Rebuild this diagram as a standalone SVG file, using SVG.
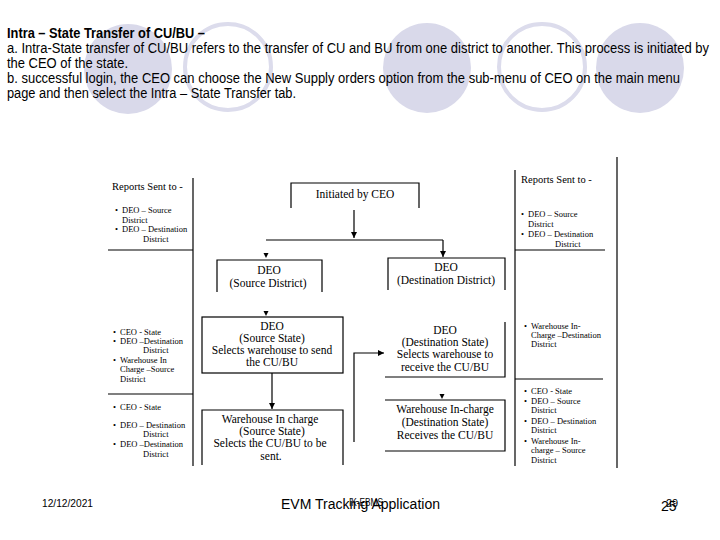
<svg xmlns="http://www.w3.org/2000/svg" width="720" height="540" viewBox="0 0 720 540">
<style>
.h{font-family:"Liberation Sans",Arial,sans-serif;font-size:14px;fill:#000}
.b{font-family:"Liberation Serif","Times New Roman",serif;font-size:11.5px;fill:#000;text-anchor:middle}
.p{font-family:"Liberation Serif","Times New Roman",serif;font-size:8.5px;fill:#000}
.pt{font-family:"Liberation Serif","Times New Roman",serif;font-size:10.5px;fill:#000}
.ln{stroke:#000;stroke-width:1.2;fill:none}
.f{font-family:"Liberation Sans",Arial,sans-serif;fill:#000}
</style>
<defs>
<marker id="arr" viewBox="0 0 6 6" refX="6" refY="3" markerWidth="6" markerHeight="6" markerUnits="userSpaceOnUse" orient="auto"><path d="M0,0 L6,3 L0,6 z" fill="#000"/></marker>
<path id="ahd" d="M-2.5,-5 L2.5,-5 L0,0 z" fill="#000"/>
</defs>
<rect width="720" height="540" fill="#fff"/>
<g id="background">
<ellipse cx="128" cy="69" rx="44" ry="45" fill="#d9d9ea"/>
<ellipse cx="228" cy="67" rx="43" ry="43" fill="none" stroke="#dcdcec" stroke-width="4"/>
<ellipse cx="427" cy="68" rx="44" ry="45" fill="#d9d9ea"/>
<ellipse cx="542" cy="67" rx="43" ry="43" fill="none" stroke="#dcdcec" stroke-width="4"/>
<ellipse cx="640" cy="68" rx="44" ry="45" fill="#d9d9ea"/>
</g>
<g id="header">
<text class="h" x="7" y="38" font-weight="bold" textLength="198" lengthAdjust="spacingAndGlyphs">Intra – State Transfer of CU/BU –</text>
<text class="h" x="7" y="53" textLength="702" lengthAdjust="spacingAndGlyphs">a. Intra-State transfer of CU/BU refers to the transfer of CU and BU from one district to another. This process is initiated by</text>
<text class="h" x="7" y="68" textLength="121" lengthAdjust="spacingAndGlyphs">the CEO of the state.</text>
<text class="h" x="7" y="83" textLength="673" lengthAdjust="spacingAndGlyphs">b. successful login, the CEO can choose the New Supply orders option from the sub-menu of CEO on the main menu</text>
<text class="h" x="7" y="98" textLength="289" lengthAdjust="spacingAndGlyphs">page and then select the Intra – State Transfer tab.</text>
</g>
<g id="frame" class="ln">
<path d="M193,178 V466"/>
<path d="M108,250 H193"/>
<path d="M108,394 H193"/>
<path d="M515,170 V466"/>
<path d="M617,157 V468"/>
<path d="M515,250 H605"/>
<path d="M515,379 H603"/>
</g>
<g id="reports-left">
<text class="pt" x="112" y="190">Reports Sent to -</text>
<text class="p" x="115" y="213">•</text><text class="p" x="122" y="213">DEO – Source</text>
<text class="p" x="122" y="223">District</text>
<text class="p" x="115" y="232">•</text><text class="p" x="122" y="232">DEO – Destination</text>
<text class="p" x="143" y="242">District</text>
</g>
<g id="reports-left-mid">
<text class="p" x="113" y="335">•</text><text class="p" x="120" y="335">CEO - State</text>
<text class="p" x="113" y="344">•</text><text class="p" x="120" y="344">DEO –Destination</text>
<text class="p" x="143" y="353">District</text>
<text class="p" x="113" y="363">•</text><text class="p" x="120" y="363">Warehouse In</text>
<text class="p" x="120" y="372">Charge –Source</text>
<text class="p" x="120" y="382">District</text>
</g>
<g id="reports-left-low">
<text class="p" x="113" y="410">•</text><text class="p" x="120" y="410">CEO - State</text>
<text class="p" x="113" y="428">•</text><text class="p" x="120" y="428">DEO – Destination</text>
<text class="p" x="143" y="437">District</text>
<text class="p" x="113" y="447">•</text><text class="p" x="120" y="447">DEO –Destination</text>
<text class="p" x="143" y="457">District</text>
</g>
<g id="reports-right">
<text class="pt" x="521" y="183">Reports Sent to -</text>
<text class="p" x="521" y="217">•</text><text class="p" x="528" y="217">DEO – Source</text>
<text class="p" x="528" y="227">District</text>
<text class="p" x="521" y="237">•</text><text class="p" x="528" y="237">DEO – Destination</text>
<text class="p" x="555" y="247">District</text>
</g>
<g id="reports-right-mid">
<text class="p" x="524" y="329">•</text><text class="p" x="531" y="329">Warehouse In-</text>
<text class="p" x="531" y="338">Charge –Destination</text>
<text class="p" x="531" y="347">District</text>
</g>
<g id="reports-right-low">
<text class="p" x="524" y="394">•</text><text class="p" x="531" y="394">CEO - State</text>
<text class="p" x="524" y="404">•</text><text class="p" x="531" y="404">DEO – Source</text>
<text class="p" x="531" y="413">District</text>
<text class="p" x="524" y="424">•</text><text class="p" x="531" y="424">DEO – Destination</text>
<text class="p" x="531" y="433">District</text>
<text class="p" x="524" y="444">•</text><text class="p" x="531" y="444">Warehouse In-</text>
<text class="p" x="531" y="453">charge – Source</text>
<text class="p" x="531" y="463">District</text>
</g>
<g id="initiated">
<path class="ln" d="M291,208 V183 H419 V208"/>
<text class="b" x="355" y="198" font-size="11">Initiated by CEO</text>
</g>
<g id="deo-source-district">
<path class="ln" d="M217,292 V260 H322 V292"/>
<text class="b" x="269" y="274">DEO</text>
<text class="b" x="268" y="287">(Source District)</text>
</g>
<g id="deo-destination-district">
<path class="ln" d="M388,290 V258 H505 V290"/>
<text class="b" x="446" y="271">DEO</text>
<text class="b" x="446" y="284">(Destination District)</text>
</g>
<g id="deo-source-state">
<rect class="ln" x="202" y="317" width="141" height="56"/>
<text class="b" x="272" y="330">DEO</text>
<text class="b" x="272" y="342">(Source State)</text>
<text class="b" x="272" y="354">Selects warehouse to send</text>
<text class="b" x="272" y="366">the CU/BU</text>
</g>
<g id="warehouse-source-state">
<path class="ln" d="M202,465 V410 H343 V465"/>
<text class="b" x="270" y="423">Warehouse In charge</text>
<text class="b" x="272" y="435">(Source State)</text>
<text class="b" x="270" y="447">Selects the CU/BU to be</text>
<text class="b" x="271" y="460">sent.</text>
</g>
<g id="deo-destination-state">
<path class="ln" d="M505,322 V377 H385"/>
<text class="b" x="445" y="334">DEO</text>
<text class="b" x="445" y="346">(Destination State)</text>
<text class="b" x="445" y="358">Selects warehouse to</text>
<text class="b" x="445" y="371">receive the CU/BU</text>
</g>
<g id="warehouse-destination-state">
<path class="ln" d="M385,400 H505 V451 H385"/>
<text class="b" x="445" y="413">Warehouse In-charge</text>
<text class="b" x="445" y="426">(Destination State)</text>
<text class="b" x="445" y="439">Receives the CU/BU</text>
</g>
<g id="connectors">
<path class="ln" d="M354,210 V238" marker-end="url(#arr)"/>
<path class="ln" d="M266,240 H443"/>
<path class="ln" d="M443,240 V257" marker-end="url(#arr)"/>
<use href="#ahd" x="266" y="258"/>
<use href="#ahd" x="266" y="316"/>
<path class="ln" d="M272,373 V409" marker-end="url(#arr)"/>
<path class="ln" d="M354,442 V353 H384" marker-end="url(#arr)"/>
<use href="#ahd" x="442" y="399"/>
</g>
<g id="footer">
<text class="f" x="42" y="507" font-size="10" textLength="51" lengthAdjust="spacingAndGlyphs">12/12/2021</text>
<text class="f" x="281" y="509" font-size="14" textLength="159" lengthAdjust="spacingAndGlyphs">EVM Tracking Application</text>
<text class="f" x="349" y="506" font-size="10" textLength="34" lengthAdjust="spacingAndGlyphs">IK-EBMS</text>
<text class="f" x="661" y="511" font-size="14">25</text>
<text class="f" x="666" y="507" font-size="11">29</text>
</g>
</svg>
